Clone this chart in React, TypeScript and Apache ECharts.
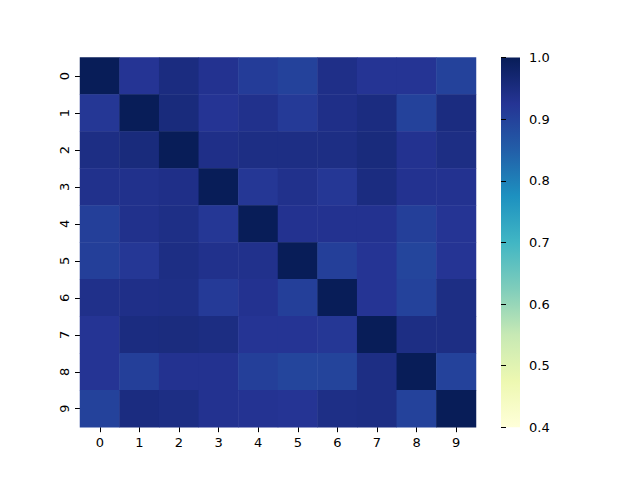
import React, { useEffect, useRef } from "react";
import * as echarts from "echarts";

const categories = ["0", "1", "2", "3", "4", "5", "6", "7", "8", "9"];

const matrix: number[][] = [
  [1.0, 0.925, 0.95, 0.93, 0.91, 0.9, 0.94, 0.925, 0.925, 0.9],
  [0.92, 1.0, 0.955, 0.925, 0.935, 0.915, 0.94, 0.95, 0.9, 0.95],
  [0.945, 0.955, 1.0, 0.94, 0.945, 0.945, 0.945, 0.955, 0.93, 0.945],
  [0.935, 0.935, 0.94, 1.0, 0.92, 0.935, 0.92, 0.95, 0.93, 0.93],
  [0.905, 0.935, 0.942, 0.92, 1.0, 0.93, 0.93, 0.93, 0.905, 0.925],
  [0.905, 0.92, 0.945, 0.935, 0.935, 1.0, 0.905, 0.925, 0.895, 0.925],
  [0.937, 0.94, 0.942, 0.915, 0.93, 0.905, 1.0, 0.925, 0.9, 0.945],
  [0.925, 0.95, 0.952, 0.948, 0.925, 0.925, 0.92, 1.0, 0.945, 0.945],
  [0.925, 0.905, 0.93, 0.93, 0.905, 0.895, 0.897, 0.945, 1.0, 0.9],
  [0.9, 0.95, 0.945, 0.93, 0.928, 0.925, 0.942, 0.945, 0.9, 1.0],
];

const colorbarMin = 0.4;
const colorbarMax = 1.0;
const colorbarStep = 0.1;

const ylgnbu = [
  "#ffffd9",
  "#edf8b1",
  "#c7e9b4",
  "#7fcdbb",
  "#41b6c4",
  "#1d91c0",
  "#225ea8",
  "#253494",
  "#081d58",
];

export default function App() {
  const ref = useRef<HTMLDivElement>(null);

  useEffect(() => {
    document.body.style.margin = "0";
    if (!ref.current) return;
    const chart = echarts.init(ref.current, null, { renderer: "svg" });
    const data: number[][] = [];
    matrix.forEach((row, y) => row.forEach((v, x) => data.push([x, y, v])));

    const font = "DejaVu Sans";
    const gTop = 57.6;
    const gHeight = 369.6;
    const cbLeft = 501;
    const cbWidth = 19;

    const stops = ylgnbu.map((c, i) => ({ offset: i / (ylgnbu.length - 1), color: c }));

    chart.setOption({
      animation: false,
      backgroundColor: "#ffffff",
      textStyle: { fontFamily: font },
      grid: [
        { left: 80, top: gTop, width: 396, height: gHeight },
        { left: cbLeft, top: gTop, width: cbWidth, height: gHeight },
      ],
      xAxis: [
        {
          type: "category",
          gridIndex: 0,
          data: categories,
          axisLine: { show: false },
          axisTick: {
            show: true,
            alignWithLabel: true,
            length: 5,
            lineStyle: { color: "#000", width: 1 },
          },
          axisLabel: { color: "#000", fontSize: 13, fontFamily: font, margin: 9 },
          splitLine: { show: false },
        },
        {
          type: "value",
          gridIndex: 1,
          show: false,
          min: 0,
          max: 1,
        },
      ],
      yAxis: [
        {
          type: "category",
          gridIndex: 0,
          data: categories,
          inverse: true,
          axisLine: { show: false },
          axisTick: {
            show: true,
            alignWithLabel: true,
            length: 5,
            lineStyle: { color: "#000", width: 1 },
          },
          axisLabel: {
            color: "#000",
            fontSize: 13,
            fontFamily: font,
            rotate: 90,
            margin: 9,
          },
          splitLine: { show: false },
        },
        {
          type: "value",
          gridIndex: 1,
          position: "right",
          min: colorbarMin,
          max: colorbarMax,
          interval: colorbarStep,
          axisLine: { show: false },
          axisTick: {
            show: true,
            length: 5,
            lineStyle: { color: "#000", width: 1 },
          },
          axisLabel: {
            color: "#000",
            fontSize: 13,
            fontFamily: font,
            margin: 9,
            formatter: (v: number) => v.toFixed(1),
          },
          splitLine: { show: false },
        },
      ],
      visualMap: {
        type: "continuous",
        show: false,
        min: colorbarMin,
        max: colorbarMax,
        seriesIndex: 0,
        inRange: { color: ylgnbu },
      },
      graphic: [
        {
          type: "rect",
          z: -1,
          shape: { x: cbLeft, y: gTop, width: cbWidth, height: gHeight },
          style: {
            fill: {
              type: "linear",
              x: 0,
              y: 1,
              x2: 0,
              y2: 0,
              colorStops: stops,
            },
          },
        },
      ],
      series: [
        {
          type: "heatmap",
          xAxisIndex: 0,
          yAxisIndex: 0,
          data,
          itemStyle: { borderWidth: 0 },
          emphasis: { disabled: true },
        },
        {
          type: "scatter",
          xAxisIndex: 1,
          yAxisIndex: 1,
          data: [],
        },
      ],
    });
    return () => chart.dispose();
  }, []);

  return <div ref={ref} style={{ width: 640, height: 480 }} />;
}
